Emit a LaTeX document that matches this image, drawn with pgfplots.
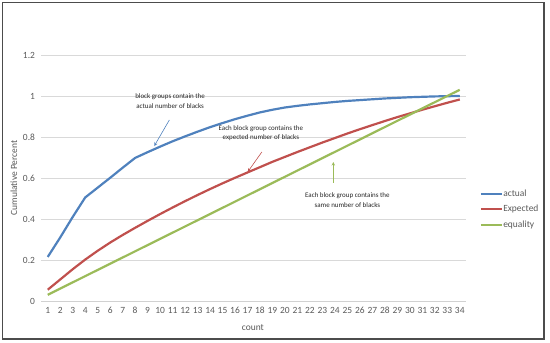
\documentclass[border=0pt]{standalone}
\usepackage{pgfplots}
\pgfplotsset{compat=1.18}
\usepackage{fontspec}
\setmainfont{Carlito}
\definecolor{xblue}{HTML}{4F81BD}
\definecolor{xred}{HTML}{C0504D}
\definecolor{xgreen}{HTML}{9BBB59}
\definecolor{xtext}{HTML}{595959}
\begin{document}
\begin{tikzpicture}
\begin{axis}[
  at={(0bp,0bp)}, anchor=south west, scale only axis,
  width=424.5bp, height=246bp,
  xmin=0.5, xmax=34.5, ymin=0, ymax=1.2,
  xtick={1,...,34}, ytick={0,0.2,0.4,0.6,0.8,1,1.2},
  yticklabels={0,0.2,0.4,0.6,0.8,1,1.2},
  axis x line*=bottom, axis y line*=left,
  y axis line style={draw=none},
  x axis line style={draw=black!18, line width=0.8pt, -},
  major tick length=0pt,
  ymajorgrids, grid style={black!15, line width=0.6pt},
  /pgf/number format/assume math mode=true,
  tick label style={font=\fontsize{9.5}{10}\selectfont, text=xtext},
  yticklabel style={xshift=-3bp},
  xticklabel style={yshift=-3bp},
  xlabel={count}, ylabel={Cumulative Percent},
  label style={font=\fontsize{9.5}{11}\selectfont, text=xtext},
  xlabel style={at={(axis description cs:0.498,-0.106)}, anchor=center},
  ylabel style={at={(axis description cs:-0.065,0.500)}, anchor=center, rotate=0},
  legend style={at={(axis description cs:1.032,0.455)}, anchor=north west,
    draw=none, fill=none, font=\fontsize{9.5}{10}\selectfont, text=xtext,
    row sep=6.5bp, inner sep=0pt, nodes={inner sep=0.5bp}},
  legend cell align=left,
  legend image code/.code={\draw[#1, line width=2pt] (0bp,0bp) -- (21bp,0bp);},
  clip=false,
  every axis plot/.append style={line width=2.2pt}
]
\addplot[xblue] coordinates {
(1,0.215)(2,0.31)(3,0.41)(4,0.505)(5,0.553)(6,0.601)(7,0.65)(8,0.698)
(9,0.726)(10,0.753)(11,0.779)(12,0.803)(13,0.826)(14,0.848)(15,0.868)
(16,0.887)(17,0.904)(18,0.92)(19,0.933)(20,0.944)(21,0.952)(22,0.959)
(23,0.965)(24,0.971)(25,0.976)(26,0.98)(27,0.984)(28,0.988)(29,0.991)
(30,0.994)(31,0.996)(32,0.998)(33,0.999)(34,1.0)};
\addlegendentry{actual}
\addplot[xred] coordinates {
(1,0.055)(2,0.105)(3,0.155)(4,0.202)(5,0.245)(6,0.285)(7,0.322)(8,0.357)
(9,0.391)(10,0.424)(11,0.456)(12,0.487)(13,0.517)(14,0.546)(15,0.574)
(16,0.601)(17,0.627)(18,0.653)(19,0.679)(20,0.703)(21,0.727)(22,0.75)
(23,0.773)(24,0.795)(25,0.817)(26,0.838)(27,0.858)(28,0.878)(29,0.897)
(30,0.915)(31,0.933)(32,0.95)(33,0.967)(34,0.983)};
\addlegendentry{Expected}
\addplot[xgreen] coordinates {
(1,0.0303)(2,0.0606)(3,0.0909)(4,0.1212)(5,0.1515)(6,0.1818)(7,0.2121)
(8,0.2424)(9,0.2727)(10,0.3030)(11,0.3333)(12,0.3636)(13,0.3939)(14,0.4242)
(15,0.4545)(16,0.4848)(17,0.5152)(18,0.5455)(19,0.5758)(20,0.6061)(21,0.6364)
(22,0.6667)(23,0.6970)(24,0.7273)(25,0.7576)(26,0.7879)(27,0.8182)(28,0.8485)
(29,0.8788)(30,0.9091)(31,0.9394)(32,0.9697)(33,1.0)(34,1.0303)};
\addlegendentry{equality}
\node[font=\fontsize{7}{9.5}\selectfont, align=center, text=black!85] at (axis cs:10.8,0.976) {block groups contain the\\actual number of blacks};
\draw[-stealth, xblue, line width=0.6pt] (axis cs:10.74,0.883) -- (axis cs:9.53,0.756);
\node[font=\fontsize{7}{9.5}\selectfont, align=center, text=black!85] at (axis cs:18.07,0.82) {Each block group contains the\\expected number of blacks};
\draw[-stealth, xred, line width=0.6pt] (axis cs:18.15,0.727) -- (axis cs:17.02,0.63);
\node[font=\fontsize{7}{9.5}\selectfont, align=center, text=black!85] at (axis cs:25.0,0.493) {Each block group contains the\\same number of blacks};
\draw[-stealth, xgreen, line width=0.6pt] (axis cs:23.87,0.576) -- (axis cs:23.87,0.678);
\end{axis}
\draw[color=black!70, line width=1.4bp] (-39bp,-38bp) rectangle (502.5bp,298.5bp);
\pgfresetboundingbox
\useasboundingbox (-41.5bp,-42bp) rectangle (508.5bp,301bp);
\end{tikzpicture}
\end{document}
